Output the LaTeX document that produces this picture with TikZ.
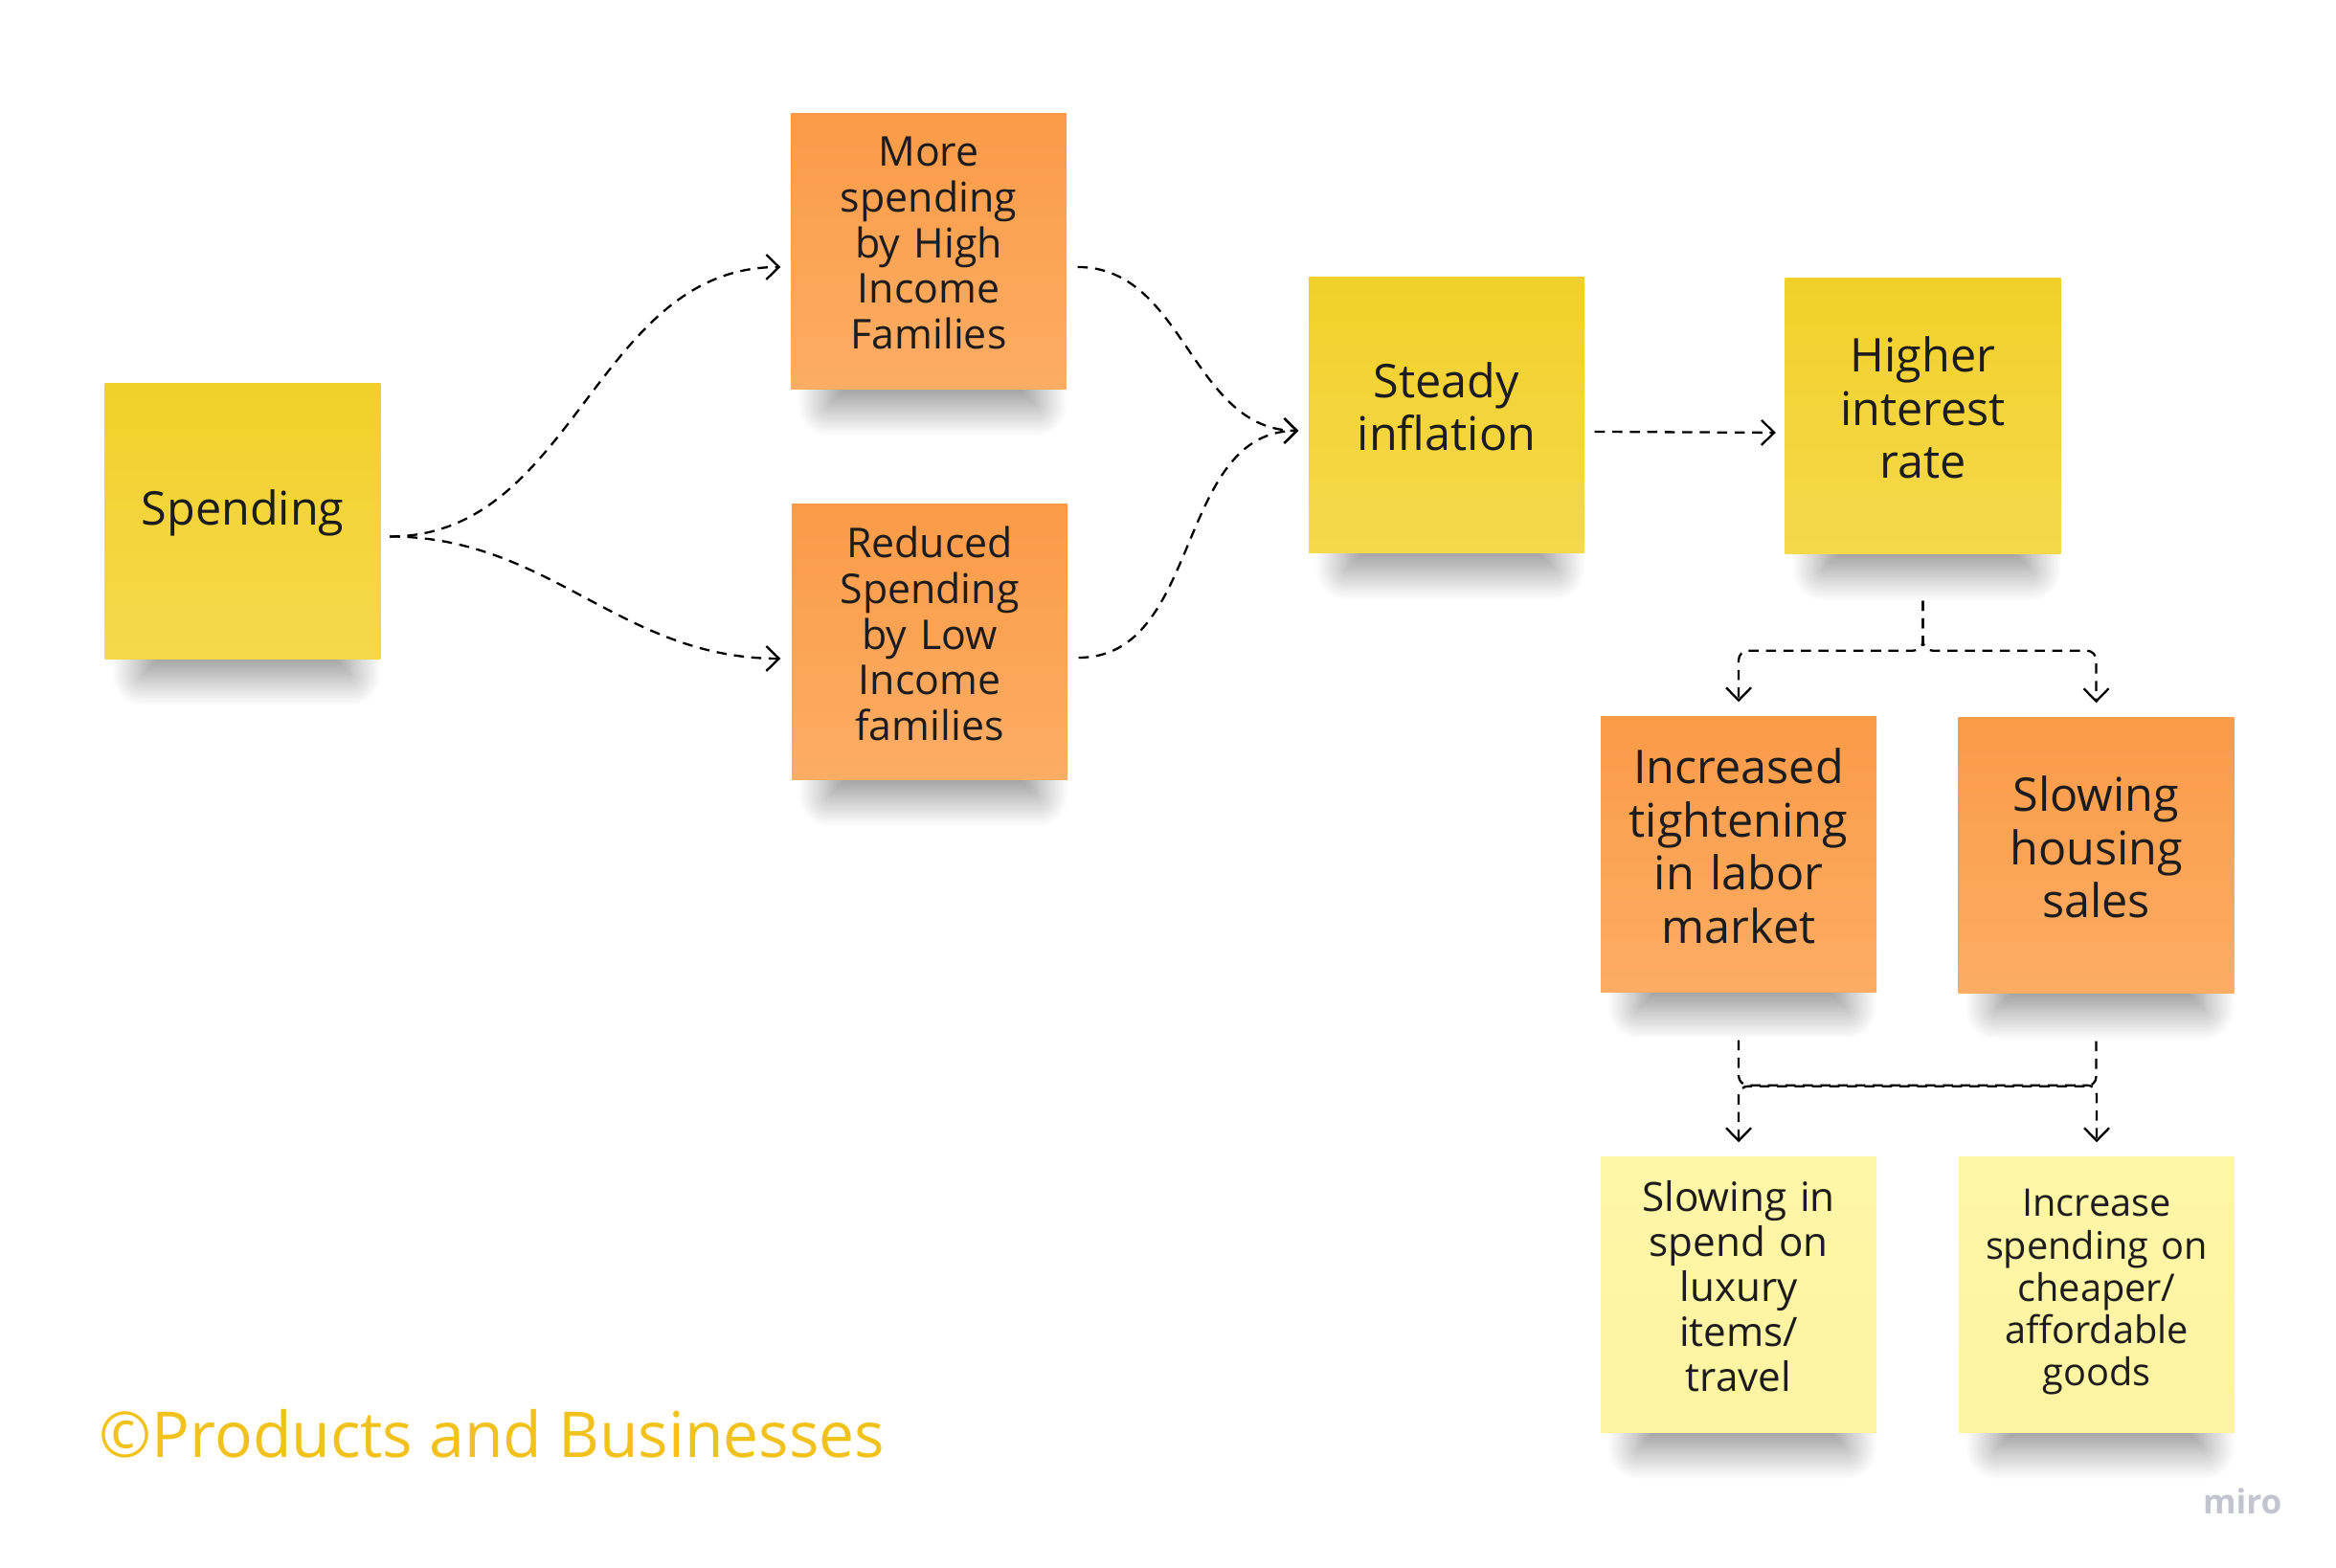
\documentclass[tikz,border=0pt]{standalone}
\usepackage{fontspec}
\setmainfont{Open Sans}
\usepackage{tikz}
\usetikzlibrary{arrows.meta,backgrounds,shadows.blur}
\definecolor{noteyellow}{RGB}{242,208,42}
\definecolor{noteyellowlo}{RGB}{245,217,76}
\definecolor{noteorange}{RGB}{250,155,72}
\definecolor{noteorangelo}{RGB}{252,173,100}
\definecolor{notepale}{RGB}{255,246,168}
\definecolor{notepalelo}{RGB}{254,243,160}
\definecolor{ink}{RGB}{28,28,28}
\definecolor{brand}{RGB}{242,194,28}
\definecolor{watermark}{RGB}{196,196,206}
\tikzset{
	>={Straight Barb[length=3.8pt,width=7.4pt]},   % open arrow heads
	note/.style={minimum width=2.88cm, minimum height=2.88cm, inner sep=0pt,
		text width=2.7cm, align=center, text=ink,
		execute at end node={\par\kern0.18cm}},
	yellownote/.style={note, top color=noteyellow, bottom color=noteyellowlo},
	orangenote/.style={note, top color=noteorange, bottom color=noteorangelo},
	palenote/.style={note, top color=notepale, bottom color=notepalelo},
	bigtext/.style={font=\fontsize{13.8pt}{15.8pt}\selectfont},
	smalltext/.style={font=\fontsize{12.2pt}{13.6pt}\selectfont},
	noteshadow/.style={blur shadow={shadow xshift=0pt, shadow yshift=-0.16cm,
		shadow blur radius=0.32cm, shadow blur steps=24, shadow opacity=46}},
	link/.style={->, line width=0.65pt, dash pattern=on 3pt off 2.2pt}
}

\begin{document}
\begin{tikzpicture}
	\useasboundingbox (0,0) rectangle (24.4,16.38);
	
	% sticky notes
	\node[yellownote, bigtext] (spend) at (2.535,10.935) {Spending};
	\node[orangenote, smalltext] (more) at (9.70,13.75) {More\\spending\\by High\\Income\\Families};
	\node[orangenote, smalltext] (less) at (9.71,9.67) {Reduced\\Spending\\by Low\\Income\\families};
	\node[yellownote, bigtext] (steady) at (15.11,12.04) {Steady\\inflation};
	\node[yellownote, bigtext] (higher) at (20.085,12.03) {Higher\\interest\\rate};
	\node[orangenote, bigtext] (tight) at (18.16,7.45) {Increased\\tightening\\in labor\\market};
	\node[orangenote, bigtext] (housing) at (21.895,7.44) {Slowing\\housing\\sales};
	\node[palenote, font=\fontsize{12pt}{13.4pt}\selectfont] (luxury) at (18.16,2.85) {Slowing in\\spend on\\luxury\\items/\\travel};
	\node[palenote, font=\fontsize{11.3pt}{12.6pt}\selectfont, execute at end node={\kern-0.12cm}] (cheap) at (21.90,2.85) {Increase\\spending on\\cheaper/\\affordable\\goods};
	
	% shadows under the notes
	\begin{scope}[on background layer]
		\foreach \n in {spend,more,less,steady,higher,tight,housing,luxury,cheap}
		\path[noteshadow] ([xshift=0.4cm,yshift=0.6cm]\n.south west) rectangle ([xshift=-0.32cm]\n.south east);
	\end{scope}
	
	% curved links
	\draw[link] ([xshift=0.09cm,yshift=-0.16cm]spend.east) to[out=0,in=180] ([xshift=-0.10cm,yshift=-0.16cm]more.west);
	\draw[link] ([xshift=0.09cm,yshift=-0.16cm]spend.east) to[out=0,in=180] ([xshift=-0.11cm,yshift=-0.17cm]less.west);
	\draw[link] ([xshift=0.11cm,yshift=-0.16cm]more.east) to[out=0,in=180] ([xshift=-0.10cm,yshift=-0.16cm]steady.west);
	\draw[link] ([xshift=0.11cm,yshift=-0.16cm]less.east) to[out=0,in=180] ([xshift=-0.10cm,yshift=-0.16cm]steady.west);
	\draw[link] ([xshift=0.10cm,yshift=-0.17cm]steady.east) -- ([xshift=-0.09cm,yshift=-0.17cm]higher.west);
	
	% elbow links
	\draw[link, rounded corners=0.1cm] ([yshift=-0.48cm]higher.south) -- ++(0,-0.52) -| ([yshift=0.15cm]tight.north);
	\draw[link, rounded corners=0.1cm] ([yshift=-0.48cm]higher.south) -- ++(0,-0.52) -| ([yshift=0.15cm]housing.north);
	\draw[link, rounded corners=0.1cm] ([yshift=-0.49cm]tight.south) -- ++(0,-0.47) -| ([yshift=0.15cm]cheap.north);
	\draw[link, rounded corners=0.1cm] ([yshift=-0.49cm]housing.south) -- ++(0,-0.47) -| ([yshift=0.15cm]luxury.north);
	
	% texts
	\node[anchor=base west, inner sep=0pt, text=brand, font=\fontsize{18.8pt}{22pt}\selectfont] (credit) at (1.03,1.15) {©Products and Businesses};
	\node[anchor=base east, inner sep=0pt, text=watermark, font=\bfseries\fontsize{10pt}{12pt}\selectfont] (miro) at (23.84,0.56) {miro};
\end{tikzpicture}
\end{document}
